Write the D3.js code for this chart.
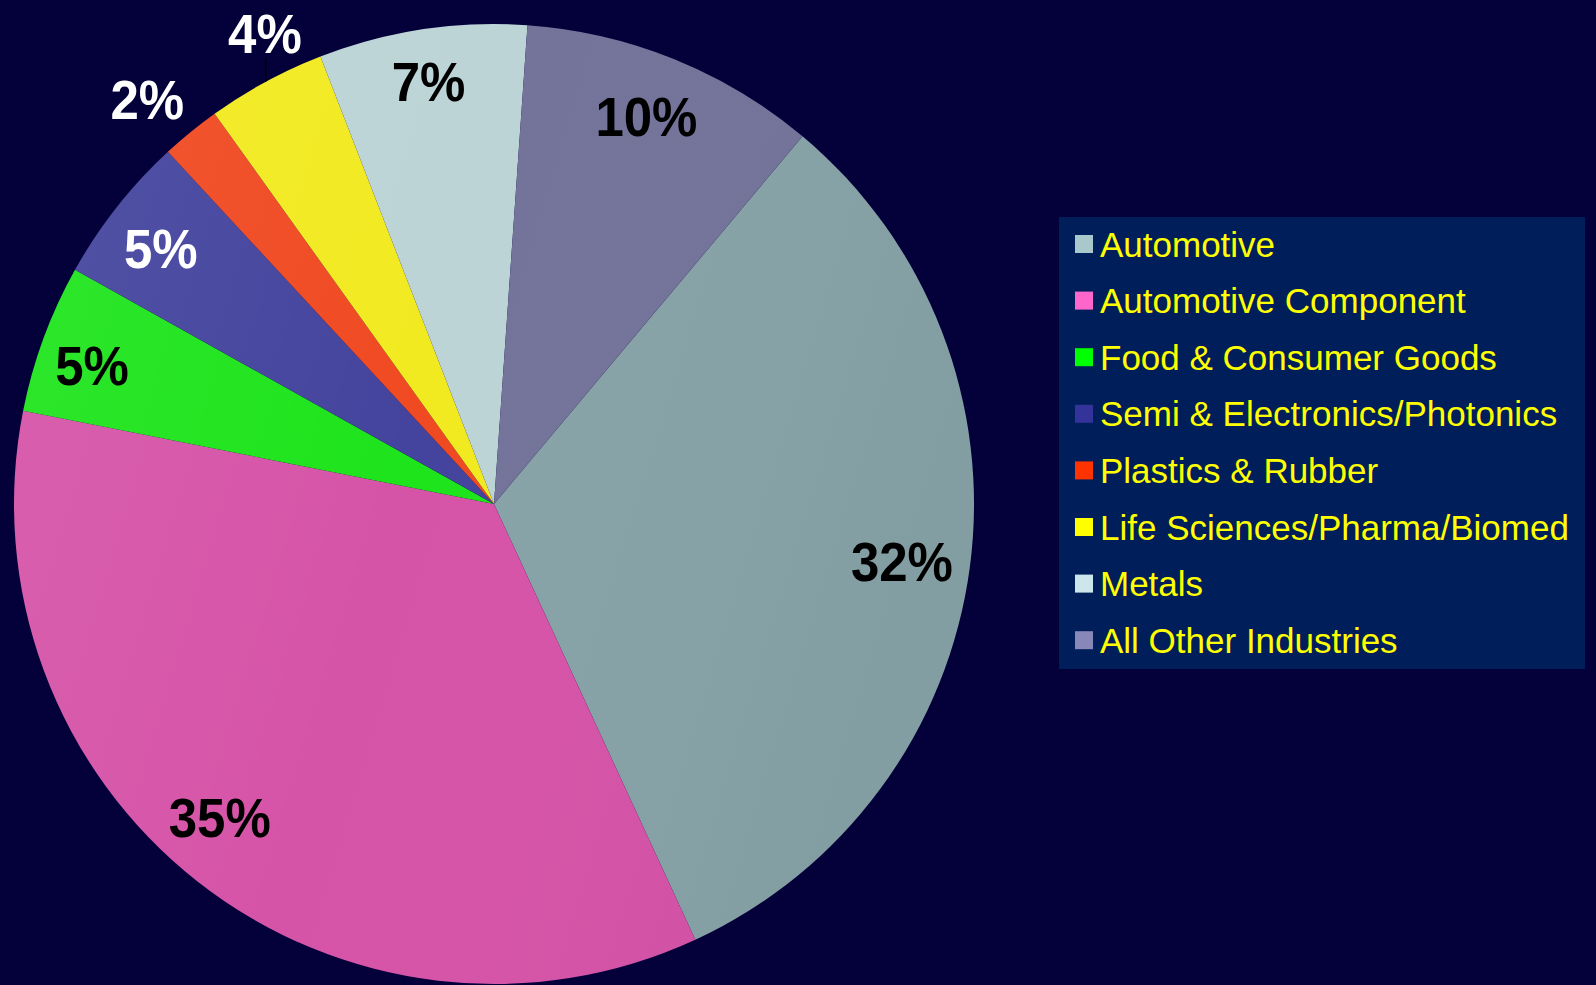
<!DOCTYPE html>
<html>
<head>
<meta charset="utf-8">
<script src="https://cdn.jsdelivr.net/npm/d3@7"></script>
<style>
  html, body { margin: 0; padding: 0; background: #04003a; }
  svg { display: block; }
  .legend text { font-family: "Liberation Sans", Arial, sans-serif; fill: #ffff00; }
  .pct { font-family: "Liberation Sans", Arial, sans-serif; font-weight: bold; }
</style>
</head>
<body>
<svg id="pie" width="1596" height="985"></svg>
<script>
  // industries, clockwise from the slice that starts at ~40 degrees
  const industries = ["Automotive", "Automotive Component", "Food & Consumer Goods",
    "Semi & Electronics/Photonics", "Plastics & Rubber", "Life Sciences/Pharma/Biomed",
    "Metals", "All Other Industries"];
  const shares = [32, 35, 5, 5, 2, 4, 7, 10];
  const pctLabels = ["32%", "35%", "5%", "5%", "2%", "4%", "7%", "10%"];

  const sliceColors = ["#87a3a7", "#d654a8", "#1ee41c", "#44449e", "#f04a22", "#f2ea20", "#bcd4d6", "#74739a"];
  const swatchColors = ["#a8c8cc", "#ff66cc", "#00ff00", "#333399", "#ff3300", "#ffff00", "#cce6ec", "#8888b8"];
  const labelColors = ["#000", "#000", "#000", "#fff", "#fff", "#fff", "#000", "#000"];
  // small hand tweaks so labels sit where the original put them
  const labelNudge = [[-6, 2], [-16, -15], [-10, 5], [-5, 2], [-13, 4], [22, -7], [-3, -10], [-4, -1]];

  const svg = d3.select("#pie");
  const cx = 494, cy = 504, radius = 480;

  const data = industries.map((name, i) => ({ name, value: shares[i], i }));

  const pie = d3.pie()
    .sort(null)
    .value(d => d.value)
    .startAngle(40 * Math.PI / 180)
    .endAngle(400 * Math.PI / 180);

  const arcs = pie(data);
  const arc = d3.arc().innerRadius(0).outerRadius(radius);
  const inLabel = d3.arc().innerRadius(radius * 0.87).outerRadius(radius * 0.87);
  const outLabel = d3.arc().innerRadius(radius * 1.1).outerRadius(radius * 1.1);

  const defs = svg.append("defs");
  const shade = defs.append("linearGradient")
    .attr("id", "shade")
    .attr("x1", "0").attr("y1", "0").attr("x2", "1").attr("y2", "0.3");
  shade.append("stop").attr("offset", "0").attr("stop-color", "#fff").attr("stop-opacity", 0.08);
  shade.append("stop").attr("offset", "0.5").attr("stop-color", "#fff").attr("stop-opacity", 0);
  shade.append("stop").attr("offset", "1").attr("stop-color", "#000").attr("stop-opacity", 0.03);

  const g = svg.append("g").attr("transform", `translate(${cx},${cy})`);

  g.selectAll("path.slice")
    .data(arcs)
    .enter().append("path")
      .attr("class", "slice")
      .attr("d", arc)
      .attr("fill", d => sliceColors[d.data.i]);

  g.append("circle")
    .attr("r", radius)
    .attr("fill", "url(#shade)");

  // small slices get their label outside the pie
  const isOutside = d => d.data.value < 5;

  // leader tick for the 4% label
  arcs.filter(d => d.data.value === 4).forEach(d => {
    const a = (d.startAngle + d.endAngle) / 2;
    const x = Math.sin(a) * radius, y = -Math.cos(a) * radius;
    g.append("line")
      .attr("x1", x).attr("y1", y)
      .attr("x2", x).attr("y2", y - 23)
      .attr("stroke", "#000").attr("stroke-width", 1.5);
  });

  g.selectAll("text.pct")
    .data(arcs)
    .enter().append("text")
      .attr("class", "pct")
      .attr("transform", d => {
        const [x, y] = isOutside(d) ? outLabel.centroid(d) : inLabel.centroid(d);
        const [nx, ny] = labelNudge[d.data.i];
        return `translate(${x + nx},${y + ny}) scale(0.91,1)`;
      })
      .attr("text-anchor", "middle")
      .attr("dy", "0.36em")
      .attr("font-size", 56)
      .attr("fill", d => labelColors[d.data.i])
      .text(d => pctLabels[d.data.i]);

  // legend
  const legend = svg.append("g").attr("class", "legend");
  legend.append("rect")
    .attr("x", 1059).attr("y", 217)
    .attr("width", 526).attr("height", 452)
    .attr("fill", "#001e5a");

  const rowY = d3.scalePoint()
    .domain(industries)
    .range([244, 244 + 56.6 * 7]);

  const rows = legend.selectAll("g.row")
    .data(industries)
    .enter().append("g")
      .attr("class", "row")
      .attr("transform", d => `translate(1075,${rowY(d)})`);

  rows.append("rect")
    .attr("x", 0).attr("y", -9)
    .attr("width", 18).attr("height", 18)
    .attr("fill", (d, i) => swatchColors[i]);

  rows.append("text")
    .attr("x", 25)
    .attr("dy", "0.36em")
    .attr("font-size", 35)
    .text(d => d);
</script>
</body>
</html>
